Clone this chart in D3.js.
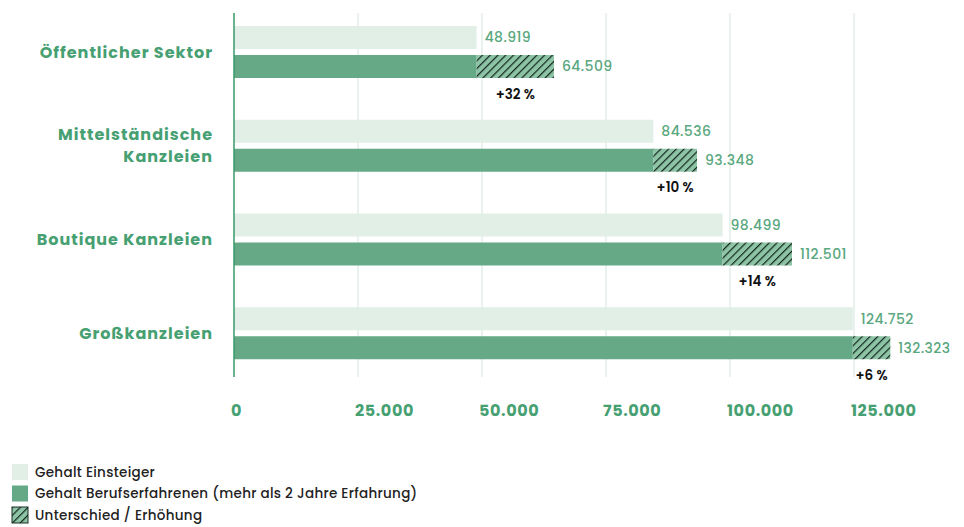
<!DOCTYPE html>
<html>
<head>
<meta charset="utf-8">
<script src="https://cdn.jsdelivr.net/npm/d3@7"></script>
<style>
  body { margin: 0; background: #fff; }
  svg { font-family: "Poppins", "Open Sans", "Noto Sans", sans-serif; }
</style>
</head>
<body>
<div id="chart"></div>
<script>
// data
var categories = [["Öffentlicher Sektor"], ["Mittelständische", "Kanzleien"], ["Boutique Kanzleien"], ["Großkanzleien"]];
var einsteiger = [48919, 84536, 98499, 124752];
var erfahren = [64509, 93348, 112501, 132323];
var erhoehung = ["+32 %", "+10 %", "+14 %", "+6 %"];
var ticks = [0, 25000, 50000, 75000, 100000, 125000];
var legendItems = ["Gehalt Einsteiger", "Gehalt Berufserfahrenen (mehr als 2 Jahre Erfahrung)", "Unterschied / Erhöhung"];

var w = 964, h = 527;
var lightColor = "#e1efe7", darkColor = "#65a987", hatchColor = "#8cc4a5", green = "#46a072";

var svg = d3.select("#chart").append("svg")
    .attr("width", w)
    .attr("height", h);

// hatch pattern
var pat = svg.append("defs").append("pattern")
    .attr("id", "hatch")
    .attr("patternUnits", "userSpaceOnUse")
    .attr("width", 5.5)
    .attr("height", 5.5)
    .attr("patternTransform", "rotate(45)");
pat.append("rect").attr("width", 5.5).attr("height", 5.5).attr("fill", hatchColor);
pat.append("line")
    .attr("x1", 0.6).attr("y1", 0).attr("x2", 0.6).attr("y2", 5.5)
    .attr("stroke", "#14261e").attr("stroke-width", 1.2);

var x = d3.scaleLinear().domain([0, 125000]).range([234, 854]);
var y = d3.scaleBand().domain(d3.range(categories.length)).range([12, 387]);
var barH = 23, gap = 6;

function groupTop(i) {
    return y(i) + 14;
}

var fmt = function (d) { return d3.format(",")(d).replace(/,/g, "."); };

// gridlines
svg.append("g").selectAll("line")
    .data(ticks.slice(1))
    .enter().append("line")
    .attr("x1", function (d) { return x(d); })
    .attr("x2", function (d) { return x(d); })
    .attr("y1", 13).attr("y2", 377)
    .attr("stroke", "#d3e6dd").attr("stroke-width", 1);

// tick labels
svg.append("g").selectAll("text")
    .data(ticks)
    .enter().append("text")
    .attr("x", function (d) { return x(d) - 3; })
    .attr("y", 416)
    .attr("fill", green)
    .attr("font-size", 16)
    .attr("font-weight", "bold")
    .attr("letter-spacing", 0.6)
    .text(fmt);

var g = svg.append("g");
categories.forEach(function (cat, i) {
    var t = groupTop(i);
    // light bar
    g.append("rect")
        .attr("x", x(0)).attr("y", t)
        .attr("width", x(einsteiger[i]) - x(0)).attr("height", barH)
        .attr("fill", lightColor);
    // dark bar
    g.append("rect")
        .attr("x", x(0)).attr("y", t + barH + gap)
        .attr("width", x(einsteiger[i]) - x(0)).attr("height", barH)
        .attr("fill", darkColor);
    // hatched difference
    g.append("rect")
        .attr("x", x(einsteiger[i])).attr("y", t + barH + gap)
        .attr("width", x(erfahren[i]) - x(einsteiger[i])).attr("height", barH)
        .attr("fill", "url(#hatch)");
    // value labels
    g.append("text")
        .attr("x", x(einsteiger[i]) + 8).attr("y", t + barH / 2)
        .attr("dy", "0.35em")
        .attr("fill", "#5aa880").attr("font-size", 14).attr("font-weight", 500)
        .attr("letter-spacing", 0.4)
        .text(fmt(einsteiger[i]));
    g.append("text")
        .attr("x", x(erfahren[i]) + 8).attr("y", t + barH * 1.5 + gap)
        .attr("dy", "0.35em")
        .attr("fill", "#5aa880").attr("font-size", 14).attr("font-weight", 500)
        .attr("letter-spacing", 0.4)
        .text(fmt(erfahren[i]));
    g.append("text")
        .attr("x", (x(einsteiger[i]) + x(erfahren[i])) / 2)
        .attr("y", t + 2 * barH + gap + 16)
        .attr("dy", "0.35em")
        .attr("text-anchor", "middle")
        .attr("fill", "#111").attr("font-size", 13.5).attr("font-weight", 600)
        .text(erhoehung[i]);
    // category label
    var cy = t + barH + gap / 2;
    var lab = g.append("text")
        .attr("text-anchor", "end")
        .attr("fill", green).attr("font-size", 16).attr("font-weight", "bold")
        .attr("letter-spacing", 1);
    cat.forEach(function (line, j) {
        lab.append("tspan")
            .attr("x", 213)
            .attr("y", cy + (j - (cat.length - 1) / 2) * 22)
            .attr("dy", "0.35em")
            .text(line);
    });
});

// axis line at 0
svg.append("line")
    .attr("x1", x(0)).attr("x2", x(0))
    .attr("y1", 13).attr("y2", 377)
    .attr("stroke", "#3a9a6a").attr("stroke-width", 1.5);

// legend
var fills = [lightColor, darkColor, "url(#hatch)"];
var leg = svg.append("g").selectAll("g")
    .data(legendItems)
    .enter().append("g")
    .attr("transform", function (d, i) { return "translate(12," + (464 + i * 21.5) + ")"; });
leg.append("rect")
    .attr("width", 16).attr("height", 16)
    .attr("fill", function (d, i) { return fills[i]; })
    .attr("stroke", function (d, i) { return i == 2 ? "#1b2f26" : "none"; })
    .attr("stroke-width", 1);
leg.append("text")
    .attr("x", 23).attr("y", 8)
    .attr("dy", "0.35em")
    .attr("fill", "#222").attr("font-size", 13.5).attr("font-weight", 500)
    .attr("letter-spacing", 0.3)
    .text(function (d) { return d; });
</script>
</body>
</html>
